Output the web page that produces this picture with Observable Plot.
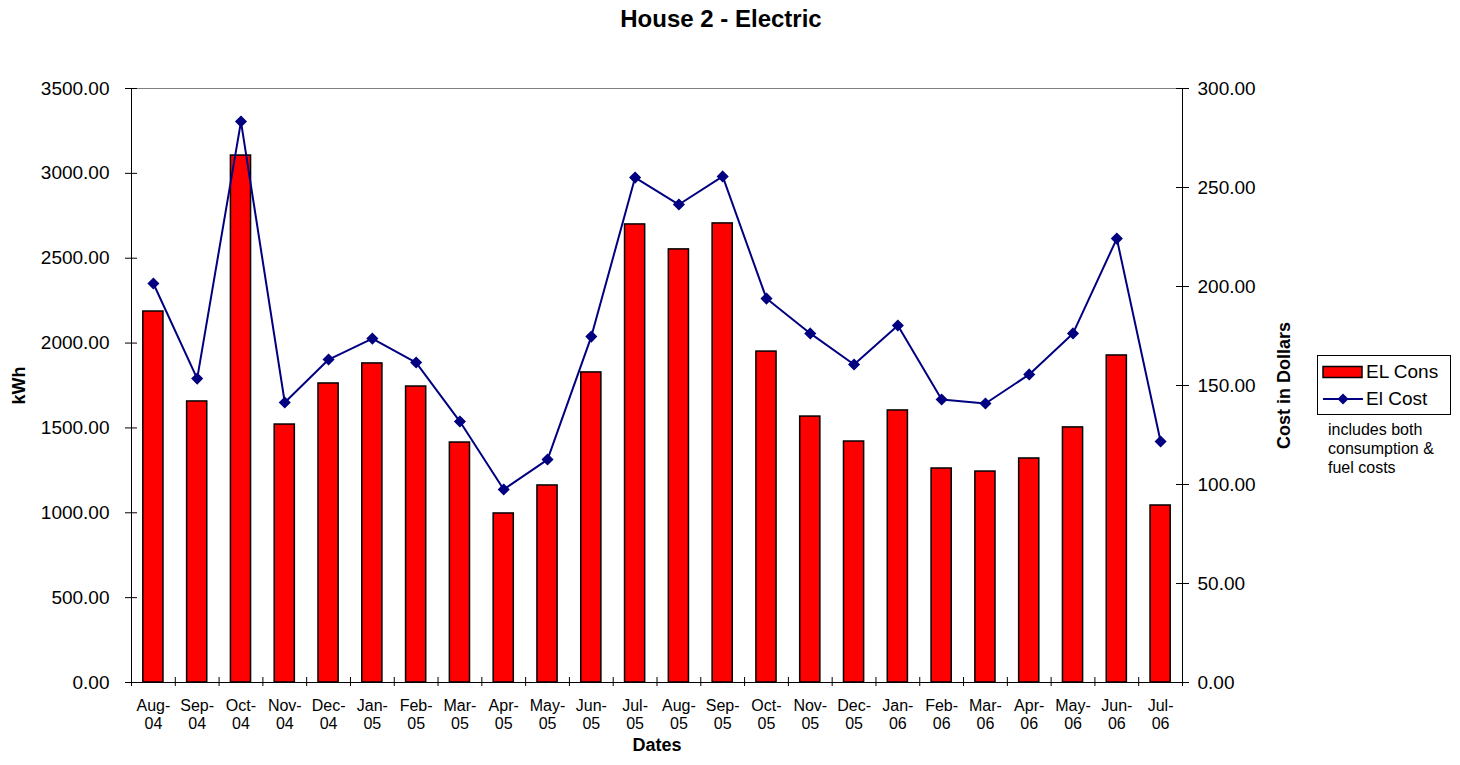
<!DOCTYPE html>
<html><head><meta charset="utf-8">
<script src="https://cdn.jsdelivr.net/npm/d3@7"></script>
<script src="https://cdn.jsdelivr.net/npm/@observablehq/plot@0.6"></script>
<style>
body{margin:0;background:#fff;font-family:"Liberation Sans",Arial,sans-serif;color:#000;}
#wrap{position:relative;width:1460px;height:765px;overflow:hidden;}
#title{position:absolute;left:0;top:-1px;width:1442px;height:40px;line-height:40px;text-align:center;font-weight:bold;font-size:24px;}
#chart{position:absolute;left:0;top:40px;}
#legend{position:absolute;left:1317px;top:355px;width:132px;height:58px;border:1px solid #000;background:#fff;}
#legend .row{position:absolute;left:4px;height:20px;font-size:19px;line-height:20px;}
#legend svg{position:absolute;left:0;top:0;}
#legend span{position:absolute;left:44px;top:0;white-space:nowrap;}
#note{position:absolute;left:1328px;top:420px;font-size:16px;line-height:19px;}
</style>
</head><body>
<div id="wrap">
  <div id="title">House 2 - Electric</div>
  <div id="chart"></div>
  <div id="legend">
    <div class="row" style="top:6px;"><svg width="44" height="20"><rect x="1" y="4.5" width="39" height="11" fill="#ff0000" stroke="#000" stroke-width="1.5"/></svg><span>EL Cons</span></div>
    <div class="row" style="top:33px;"><svg width="44" height="20"><line x1="1" y1="10" x2="41" y2="10" stroke="#000080" stroke-width="2"/><path d="M21,4.5L26.5,10L21,15.5L15.5,10Z" fill="#000080"/></svg><span>El Cost</span></div>
  </div>
  <div id="note">includes both<br>consumption &amp;<br>fuel costs</div>
</div>
<script>
const months = ["Aug-04","Sep-04","Oct-04","Nov-04","Dec-04","Jan-05","Feb-05","Mar-05","Apr-05","May-05","Jun-05","Jul-05","Aug-05","Sep-05","Oct-05","Nov-05","Dec-05","Jan-06","Feb-06","Mar-06","Apr-06","May-06","Jun-06","Jul-06"];
const kwh = [2186,1656,3105,1520,1762,1880,1744,1414,996,1161,1827,2699,2552,2705,1950,1567,1420,1603,1261,1243,1320,1503,1927,1043];
const cost = [201.5,153.5,283.3,141.4,163.1,173.7,161.6,131.8,97.5,112.6,174.7,255.0,241.4,255.6,193.9,176.3,160.6,180.3,142.9,140.9,155.6,176.3,224.2,121.7];
const leftTicks = [0,500,1000,1500,2000,2500,3000,3500];
const rightTicks = [0,50,100,150,200,250,300];

const k = 3500/300;
const data = months.map((m,i)=>({month:m, kwh:kwh[i], cost:cost[i]}));
const plotW = 1051, plotH = 594;
const step = plotW/months.length;
const font = '"Liberation Sans", Arial, sans-serif';

const chart = Plot.plot({
  width:1460, height:725,
  marginTop:48, marginBottom:83, marginLeft:131, marginRight:278,
  style:{fontFamily:font, fontSize:"16px", color:"#000", background:"#fff", overflow:"visible"},
  x:{type:"band", domain:months, paddingInner:0.54, paddingOuter:0.27, round:false, axis:null},
  y:{domain:[0,3500], axis:null},
  marks:[
    Plot.ruleY([3500],{stroke:"#808080"}),
    Plot.barY(data,{x:"month", y:"kwh", fill:"#ff0000", stroke:"#000", strokeWidth:1.5}),
    Plot.ruleY([0],{stroke:"#000"}),
    Plot.ruleX([months[0]],{x:d=>d, dx:-step/2, stroke:"#000"}),
    Plot.ruleX([months[months.length-1]],{x:d=>d, dx:step/2, stroke:"#000"}),
    Plot.ruleX(months,{x:d=>d, dx:-step/2, insetTop:plotH-5, insetBottom:-4, stroke:"#000"}),
    Plot.ruleX([months[months.length-1]],{x:d=>d, dx:step/2, insetTop:plotH-5, insetBottom:-4, stroke:"#000"}),
    Plot.axisX({tickSize:0, tickPadding:16, fontSize:16, lineHeight:1.1, tickFormat:d=>d.replace("-","-\n"), label:null}),
    Plot.axisY({anchor:"left", ticks:leftTicks, tickSize:6, tickPadding:16, fontSize:19, tickFormat:d=>d.toFixed(2), label:null}),
    Plot.ruleY(leftTicks,{insetRight:plotW-6, stroke:"#000"}),
    Plot.axisY({anchor:"right", ticks:rightTicks.map(v=>v*k), tickSize:6, tickPadding:9, fontSize:19, tickFormat:d=>(d/k).toFixed(2), label:null}),
    Plot.ruleY(rightTicks.map(v=>v*k),{insetLeft:plotW-6, stroke:"#000"}),
    Plot.line(data,{x:"month", y:d=>d.cost*k, stroke:"#000080", strokeWidth:2}),
    Plot.dot(data,{x:"month", y:d=>d.cost*k, symbol:"diamond2", r:4.5, fill:"#000080", stroke:"#000080"}),
    Plot.text(["kWh"],{text:d=>d, frameAnchor:"left", dx:-112, rotate:-90, textAnchor:"middle", fontWeight:"bold", fontSize:18}),
    Plot.text(["Cost in Dollars"],{text:d=>d, frameAnchor:"right", dx:102, rotate:-90, textAnchor:"middle", fontWeight:"bold", fontSize:18}),
    Plot.text(["Dates"],{text:d=>d, frameAnchor:"bottom", dy:68, fontWeight:"bold", fontSize:18})
  ]
});
document.getElementById("chart").appendChild(chart);
</script>
</body></html>
